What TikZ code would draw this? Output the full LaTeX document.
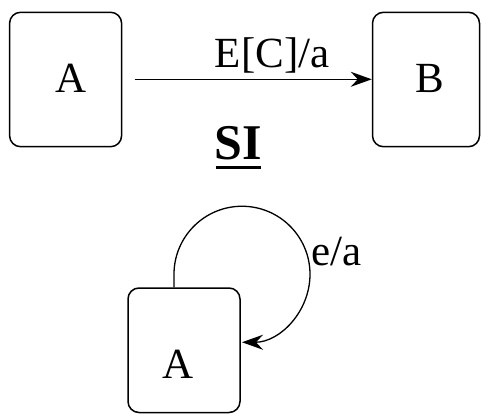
\documentclass[tikz,border=0pt]{standalone}
\usepackage{fontspec}
\setmainfont{Liberation Serif}
\usetikzlibrary{arrows.meta}
\begin{document}
\begin{tikzpicture}[x=1pt,y=-1pt,
  statebox/.style={draw, line width=1.5pt, rounded corners=11pt, inner sep=0pt},
  lbl/.style={font=\fontsize{43pt}{50pt}\selectfont, inner sep=0pt},
  conn/.style={line width=1.3pt, -{Stealth[length=21pt,width=15pt,inset=7pt]}}]
\useasboundingbox (0,0) rectangle (481,414);
% boxes
\node[statebox, minimum width=112pt, minimum height=134.4pt,
  label={[lbl, xshift=5pt, yshift=1.4pt]center:A}] (A) at (65.6,79.5) {};
\node[statebox, minimum width=107pt, minimum height=134.4pt,
  label={[lbl, xshift=3.5pt, yshift=1.4pt]center:B}] (B) at (426,79.5) {};
\node[statebox, minimum width=112pt, minimum height=124.5pt,
  label={[lbl, xshift=-5.5pt, yshift=-14.2pt]center:A}] (A2) at (184,350.25) {};
% transition A -> B
\draw[conn] ([xshift=12.3pt,yshift=0.2pt]A.east) -- ([yshift=0.2pt]B.west)
  node[lbl, pos=0.58, anchor=base, yshift=11.3pt] (ECa) {E[C]/a};
% SI title
\node[font=\fontsize{50pt}{58pt}\selectfont\bfseries, inner sep=0pt, anchor=base] (SI) at (238,160) {SI};
\draw[line width=2.2pt] ([xshift=1.5pt,yshift=-7.5pt]SI.base west) -- ([xshift=-0.5pt,yshift=-7.5pt]SI.base east);
% self loop
\draw[conn] ([xshift=-10pt]A2.north) -- ++(0,-13) arc[start angle=180, end angle=450, radius=68];
\node[lbl, anchor=base west] (ea) at (311,265) {e/a};
\end{tikzpicture}
\end{document}
